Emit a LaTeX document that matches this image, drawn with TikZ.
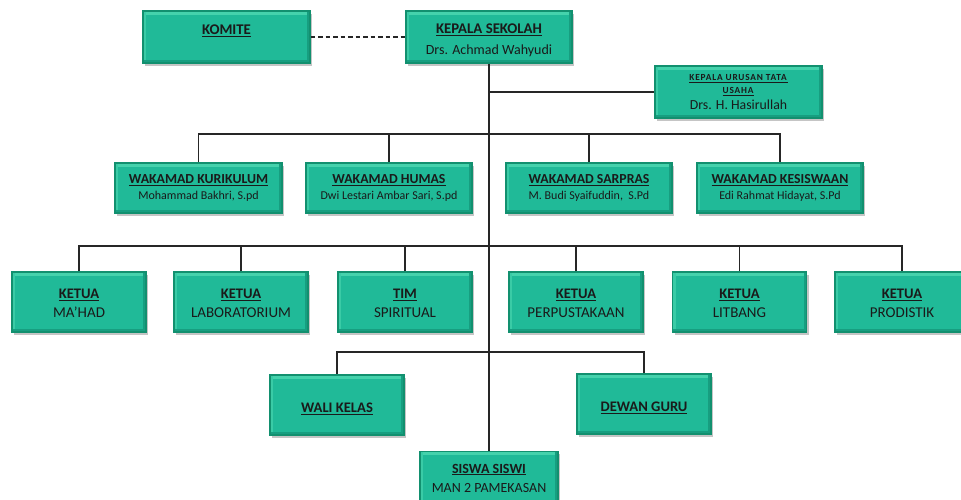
\documentclass[tikz,border=0pt]{standalone}
\usepackage{fontspec}
\setmainfont{Carlito}
\usetikzlibrary{shadows}
\definecolor{boxfill}{HTML}{20BA98}
\definecolor{boxlight}{HTML}{45D2AC}
\definecolor{boxdark}{HTML}{179E80}
\definecolor{boxedge}{HTML}{12906F}
\definecolor{txt}{HTML}{1A1A1A}
\tikzset{
  box/.style={draw=boxedge, line width=1.2pt, fill=boxfill, text=txt, align=center,
    inner sep=2pt, drop shadow={opacity=0.45, shadow xshift=2pt, shadow yshift=-2.5pt},
    path picture={
      \fill[boxlight] (path picture bounding box.north west) rectangle ([yshift=-3.5pt]path picture bounding box.north east);
      \fill[boxlight!70!boxfill] (path picture bounding box.north west) rectangle ([xshift=3pt]path picture bounding box.south west);
      \fill[boxdark] (path picture bounding box.south west) rectangle ([yshift=3pt]path picture bounding box.south east);
      \fill[boxdark] ([xshift=-3pt]path picture bounding box.north east) rectangle (path picture bounding box.south east);
    }},
  link/.style={draw=black!85, line width=1.6pt},
}
\newcommand{\ttl}[1]{\underline{\textbf{#1}}}
\newcommand{\smallttl}[1]{{\fontsize{9.3}{12}\selectfont\addfontfeature{LetterSpace=9}\ttl{#1}}}
\newcommand{\bigttl}[1]{{\fontsize{13.8}{16}\selectfont\ttl{#1}}}
\begin{document}
\begin{tikzpicture}[x=1pt,y=-1pt]
\useasboundingbox (0,0) rectangle (961,499);
\fill[white] (0,0) rectangle (961,499);
\begin{scope}
\clip (0,0) rectangle (961,499);
% row 1
\node[box, minimum width=167pt, minimum height=52pt, font=\fontsize{14.8}{19}\selectfont, text height=10pt, text depth=14.6pt] (komite) at (226.5,37) {\ttl{KOMITE}};
\node[box, minimum width=166pt, minimum height=52pt, font=\fontsize{14.8}{21}\selectfont] (ks) at (489,37) {\rule{0pt}{16.6pt}\ttl{KEPALA SEKOLAH}\\ {\fontsize{14}{21}\selectfont Drs. Achmad Wahyudi}};
\node[box, minimum width=167pt, minimum height=52pt, font=\fontsize{13.8}{13}\selectfont] (tu) at (738.5,92) {\smallttl{KEPALA URUSAN TATA}\\ \smallttl{USAHA}\\[3pt] Drs. H. Hasirullah};
% row 2
\node[box, minimum width=167pt, minimum height=50pt, font=\fontsize{12}{16}\selectfont] (kur) at (198.5,188) {\bigttl{WAKAMAD KURIKULUM}\\ Mohammad Bakhri, S.pd};
\node[box, minimum width=166pt, minimum height=50pt, font=\fontsize{12}{16}\selectfont] (hum) at (389,188) {\bigttl{WAKAMAD HUMAS}\\ Dwi Lestari Ambar Sari, S.pd};
\node[box, minimum width=166pt, minimum height=50pt, font=\fontsize{12}{16}\selectfont] (sar) at (589,188) {\bigttl{WAKAMAD SARPRAS}\\ M. Budi Syaifuddin,\ \ S.Pd};
\node[box, minimum width=166pt, minimum height=50pt, font=\fontsize{12}{16}\selectfont] (kes) at (780,188) {\bigttl{WAKAMAD KESISWAAN}\\ Edi Rahmat Hidayat, S.Pd};
% row 3
\foreach \n/\x/\a/\b in {mahad/79/KETUA/MA'HAD, lab/241/KETUA/LABORATORIUM, tim/405/TIM/SPIRITUAL, pus/576/KETUA/PERPUSTAKAAN, lit/739.5/KETUA/LITBANG, pro/902/KETUA/PRODISTIK}{
  \node[box, minimum width=134pt, minimum height=60pt, font=\fontsize{15}{19}\selectfont] (\n) at (\x,302) {\rule{0pt}{12.4pt}{\fontsize{14.6}{19}\selectfont\ttl{\a}}\\ \b};
}
% row 4
\node[box, minimum width=134pt, minimum height=60pt, font=\fontsize{14.6}{18}\selectfont, text height=17pt, text depth=1.6pt] (wali) at (337,405) {\ttl{WALI KELAS}};
\node[box, minimum width=134pt, minimum height=60pt, font=\fontsize{14.6}{18}\selectfont, text height=17pt, text depth=1.6pt] (dewan) at (644,404) {\ttl{DEWAN GURU}};
\node[box, minimum width=138pt, minimum height=53pt, font=\fontsize{14}{19}\selectfont, anchor=north] (siswa) at (489,451) {\ttl{SISWA SISWI}\\ MAN 2 PAMEKASAN};
\end{scope}
% bus coordinates
\coordinate (b2) at (0,134);
\coordinate (b3) at (0,246);
\coordinate (b4) at (0,352);
% connectors
\draw[link, dash pattern=on 4.5pt off 3pt] (komite.east) -- (ks.west);
\draw[link] (ks.south) -- (siswa.north);
\draw[link] (ks.south |- tu.west) -- (tu.west);
\draw[link] (kur.north) -- (kur.north |- b2) -- (kes.north |- b2) -- (kes.north);
\foreach \n in {hum,sar}{\draw[link] (\n.north) -- (\n.north |- b2);}
\draw[link] (mahad.north) -- (mahad.north |- b3) -- (pro.north |- b3) -- (pro.north);
\foreach \n in {lab,tim,pus,lit}{\draw[link] (\n.north) -- (\n.north |- b3);}
\draw[link] (wali.north) -- (wali.north |- b4) -- (dewan.north |- b4) -- (dewan.north);
\end{tikzpicture}
\end{document}
